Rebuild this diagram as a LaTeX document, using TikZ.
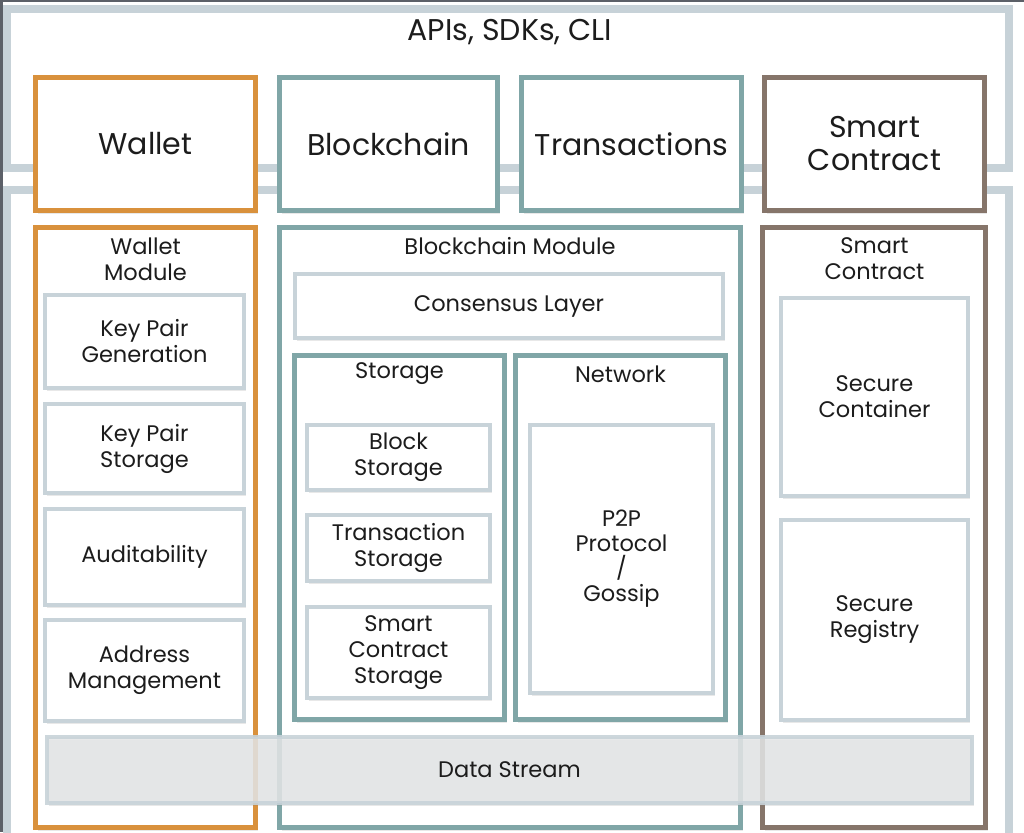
\documentclass[tikz,border=0pt]{standalone}
\usepackage{fontspec}
\setmainfont{Poppins}
\usetikzlibrary{shadows}
\definecolor{walletc}{RGB}{217,145,60}
\definecolor{chainc}{RGB}{128,166,167}
\definecolor{smartc}{RGB}{134,117,106}
\definecolor{lightc}{RGB}{200,211,217}
\definecolor{framec}{RGB}{199,210,216}
\definecolor{streamc}{RGB}{228,230,231}
\definecolor{darkedge}{RGB}{92,96,104}
\definecolor{txt}{RGB}{28,28,28}
\tikzset{
  every node/.style={text=txt, inner sep=0pt, outer sep=0pt},
  sh/.style={drop shadow={opacity=0.18, shadow xshift=2pt, shadow yshift=-3pt}},
  frame/.style={draw=framec, line width=8pt, fill=white, rectangle},
  topbox/.style={draw=#1, line width=5pt, fill=white, rectangle, sh, align=center,
                 font=\fontsize{30}{33}\selectfont},
  modbox/.style={draw=#1, line width=5pt, fill=white, rectangle, sh},
  subbox/.style={draw=chainc, line width=5pt, fill=white, rectangle, sh},
  inbox/.style={draw=lightc, line width=4pt, fill=white, rectangle, sh, align=center,
                font=\fontsize{22.5}{26}\selectfont},
  title/.style={align=center, font=\fontsize{22.5}{26}\selectfont},
}
\begin{document}
\begin{tikzpicture}[x=1pt,y=-1pt]
\useasboundingbox (0,0) rectangle (1024,832);
\clip (0,0) rectangle (1024,832);
\fill[white] (0,0) rectangle (1024,832);
% outer frames
\node[frame, minimum width=1002pt, minimum height=159pt] (apis) at (508,88.5) {};
\node[frame, minimum width=1002pt, minimum height=710pt] (core) at (508,545) {};
\node[font=\fontsize{30}{33}\selectfont] (apistxt) at (510,32) {APIs, SDKs, CLI};
% top row
\node[topbox=walletc, minimum width=220pt, minimum height=133pt] (wallet) at (145.5,144) {Wallet};
\node[topbox=chainc, minimum width=218pt, minimum height=133pt] (chain) at (388.5,144) {Blockchain};
\node[topbox=chainc, minimum width=220pt, minimum height=133pt] (trans) at (631.5,144) {Transactions};
\node[topbox=smartc, minimum width=220pt, minimum height=133pt] (smart) at (874.5,144) {Smart\\Contract};
% modules
\node[modbox=walletc, minimum width=220pt, minimum height=600pt] (wmod) at (145.5,527.5) {};
\node[modbox=chainc, minimum width=461pt, minimum height=600pt] (bmod) at (510,527.5) {};
\node[modbox=smartc, minimum width=223pt, minimum height=600pt] (smod) at (874,527.5) {};
\node[title] (wmodt) at (145.5,259) {Wallet\\Module};
\node[title] (bmodt) at (510,246) {Blockchain Module};
\node[title] (smodt) at (874.5,259) {Smart\\Contract};
% wallet inner
\node[inbox, minimum width=199pt, minimum height=93pt] (kpg) at (144.5,341.5) {Key Pair\\Generation};
\node[inbox, minimum width=199pt, minimum height=89pt] (kps) at (144.5,448.5) {Key Pair\\Storage};
\node[inbox, minimum width=199pt, minimum height=96pt] (aud) at (144.5,557) {Auditability};
\node[inbox, minimum width=199pt, minimum height=101pt] (addr) at (144.5,670.5) {Address\\Management};
% blockchain inner
\node[inbox, minimum width=428pt, minimum height=64pt] (cons) at (509,306) {Consensus Layer};
\node[subbox, minimum width=210pt, minimum height=364pt] (stor) at (399.5,537.5) {};
\node[subbox, minimum width=210pt, minimum height=364pt] (net) at (620.5,537.5) {};
\node[title] (stort) at (399.5,374) {Storage};
\node[title] (nett) at (620.5,374) {Network};
\node[inbox, minimum width=183pt, minimum height=65pt] (bst) at (398.5,457.5) {Block\\Storage};
\node[inbox, minimum width=183pt, minimum height=66pt] (tst) at (398.5,548) {Transaction\\Storage};
\node[inbox, minimum width=183pt, minimum height=91pt] (sst) at (398.5,652.5) {Smart\\Contract\\Storage};
\node[inbox, minimum width=183pt, minimum height=268pt, font=\fontsize{22.5}{25}\selectfont] (p2p) at (621.5,559) {P2P\\Protocol\\/\\Gossip};
% smart contract inner
\node[inbox, minimum width=187pt, minimum height=198pt] (scont) at (874.5,397) {Secure\\Container};
\node[inbox, minimum width=187pt, minimum height=200pt] (sreg) at (874.5,620) {Secure\\Registry};
% data stream
\node[draw=lightc, line width=4pt, fill=streamc, fill opacity=0.85, draw opacity=0.9, text opacity=1,
      minimum width=925pt, minimum height=66pt, sh, font=\fontsize{22.5}{26}\selectfont] (stream) at (509.5,770) {Data Stream};
% screenshot edge
\fill[darkedge] (0,0) rectangle (3,832);
\fill[darkedge] (0,0) rectangle (1024,2);
\end{tikzpicture}
\end{document}
